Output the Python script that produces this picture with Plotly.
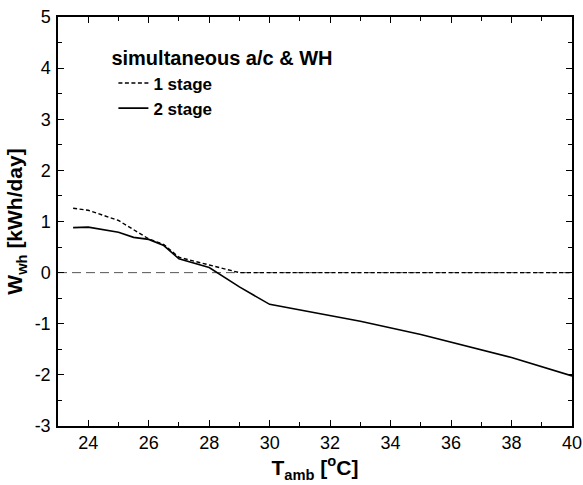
import plotly.graph_objects as go

t_one = [23.5, 24, 25, 26, 26.5, 27, 28, 29, 30, 32, 34, 36, 38, 40]
w_one = [1.26, 1.22, 1.02, 0.66, 0.55, 0.30, 0.15, 0.0, 0.0, 0.0, 0.0, 0.0, 0.0, 0.0]
t_two = [23.5, 24, 25, 25.5, 26, 26.5, 27, 28, 29, 30, 33, 35, 38, 40]
w_two = [0.88, 0.89, 0.79, 0.69, 0.65, 0.53, 0.27, 0.10, -0.28, -0.62, -0.95, -1.21, -1.66, -2.02]

x_ticks = [24, 26, 28, 30, 32, 34, 36, 38, 40]
y_ticks = [-3, -2, -1, 0, 1, 2, 3, 4, 5]
y_ticktext = ["-3", "-2", "-1", "0", "1", "2", "3", "4", "5"]

FONT = "Liberation Sans, Arial, Helvetica, sans-serif"

fig = go.Figure()
fig.add_trace(go.Scatter(x=t_one, y=w_one, mode="lines", name="<b>1 stage</b>",
                         line=dict(color="black", width=1.4, dash="4px,2.5px")))
fig.add_trace(go.Scatter(x=t_two, y=w_two, mode="lines", name="<b>2 stage</b>",
                         line=dict(color="black", width=1.6)))

fig.add_shape(type="line", xref="paper", yref="y", x0=0, x1=1, y0=0, y1=0,
              line=dict(color="#555555", width=1, dash="9px,5px"), layer="below")

axis_common = dict(showline=True, linecolor="black", linewidth=1.5, mirror="allticks",
                   ticks="inside", ticklen=6, tickwidth=1.3, tickcolor="black",
                   showgrid=False, zeroline=False, automargin=False,
                   tickfont=dict(family=FONT, size=18, color="black"))

fig.update_xaxes(range=[23, 40], tickmode="array", tickvals=x_ticks,
                 ticktext=[str(v) for v in x_ticks],
                 minor=dict(ticks="inside", ticklen=4, tickcolor="black", tickwidth=1.1, dtick=1, tick0=23, showgrid=False),
                 title=dict(text="<b>T<sub>amb</sub> [<sup>o</sup>C]</b>",
                            font=dict(family=FONT, size=21, color="black"), standoff=6),
                 **axis_common)
fig.update_yaxes(range=[-3, 5], tickmode="array", tickvals=y_ticks, ticktext=y_ticktext,
                 minor=dict(ticks="inside", ticklen=4, tickcolor="black", tickwidth=1.1, dtick=0.5, tick0=0, showgrid=False),
                 title=dict(text="<b>W<sub>wh</sub> [kWh/day]</b>",
                            font=dict(family=FONT, size=21, color="black"), standoff=6),
                 ticklabelstandoff=2,
                 **axis_common)

fig.update_layout(
    width=583, height=485,
    margin=dict(l=58, r=11, t=17, b=59),
    paper_bgcolor="white", plot_bgcolor="white",
    font=dict(family=FONT, color="black"),
    legend=dict(x=0.1, y=0.945, xanchor="left", yanchor="top",
                bgcolor="rgba(0,0,0,0)", borderwidth=0,
                title=dict(text="<b>simultaneous a/c &amp; WH</b>", font=dict(family=FONT, size=20)),
                font=dict(family=FONT, size=17), indentation=4,
                tracegroupgap=0, itemwidth=30),
)

fig.write_html("out.html", config={"displayModeBar": False},
               post_script="document.body.style.margin='0';document.body.style.overflow='hidden';")
